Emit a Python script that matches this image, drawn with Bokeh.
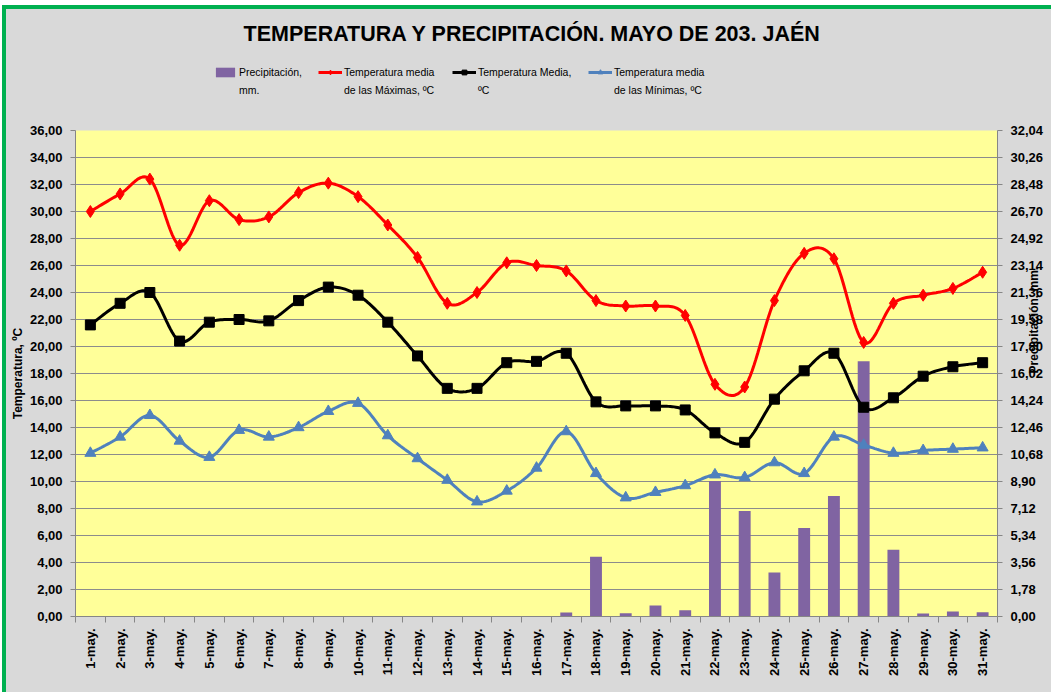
import numpy as np
from bokeh.plotting import figure
from bokeh.layouts import column
from bokeh.models import (Range1d, LinearAxis, FixedTicker, CustomJSTickFormatter,
                          Legend, LegendItem, Label)
from bokeh.embed import file_html
from bokeh.resources import INLINE

days = [f"{i}-may." for i in range(1, 32)]
precip = [0, 0, 0, 0, 0, 0, 0, 0, 0, 0, 0, 0, 0, 0, 0, 0,
          0.26, 3.94, 0.22, 0.73, 0.42, 8.93, 6.95, 2.90, 5.83, 7.94, 16.83, 4.40, 0.20, 0.33, 0.28]
tmax = [30.0, 31.3, 32.4, 27.5, 30.8, 29.4, 29.6, 31.4, 32.1, 31.1, 29.0, 26.6, 23.2, 24.0, 26.2, 26.0,
        25.6, 23.4, 23.0, 23.0, 22.3, 17.2, 17.0, 23.4, 26.9, 26.5, 20.3, 23.2, 23.8, 24.3, 25.5]
tmean = [21.6, 23.2, 24.0, 20.4, 21.8, 22.0, 21.9, 23.4, 24.4, 23.8, 21.8, 19.3, 16.9, 16.9, 18.8, 18.9,
         19.5, 15.9, 15.6, 15.6, 15.3, 13.6, 12.9, 16.1, 18.2, 19.5, 15.5, 16.2, 17.8, 18.5, 18.8]
tmin = [12.1, 13.3, 14.9, 13.0, 11.8, 13.8, 13.3, 14.0, 15.2, 15.8, 13.4, 11.7, 10.1, 8.5, 9.3, 11.0,
        13.7, 10.6, 8.8, 9.2, 9.7, 10.5, 10.3, 11.4, 10.6, 13.3, 12.7, 12.1, 12.3, 12.4, 12.5]
left_ticks = list(range(0, 37, 2))
right_ticks = [round(1.78 * i, 2) for i in range(19)]
title_text = "TEMPERATURA Y PRECIPITACIÓN. MAYO DE 203. JAÉN"
labels = [("Precipitación,", "mm."), ("Temperatura media", "de las Máximas, ºC"),
          ("Temperatura Media,", "ºC"), ("Temperatura media", "de las Mínimas, ºC")]

x = np.arange(1, len(days) + 1, dtype=float)


def smooth(xs, ys, n=16):
    """Excel-style smoothed line drawn through the data points (cubic Bezier, Catmull-Rom)."""
    xs = np.asarray(xs, float)
    ys = np.asarray(ys, float)
    px = np.concatenate([[xs[0]], xs, [xs[-1]]])
    py = np.concatenate([[ys[0]], ys, [ys[-1]]])
    ox, oy = [], []
    t = np.linspace(0, 1, n, endpoint=False)
    for i in range(1, len(px) - 2):
        p0 = np.array([px[i], py[i]])
        p3 = np.array([px[i + 1], py[i + 1]])
        c1 = p0 + (np.array([px[i + 1], py[i + 1]]) - np.array([px[i - 1], py[i - 1]])) / 6
        c2 = p3 - (np.array([px[i + 2], py[i + 2]]) - np.array([px[i], py[i]])) / 6
        for tt in t:
            b = ((1 - tt) ** 3) * p0 + 3 * (1 - tt) ** 2 * tt * c1 + 3 * (1 - tt) * tt ** 2 * c2 + tt ** 3 * p3
            ox.append(b[0])
            oy.append(b[1])
    ox.append(xs[-1])
    oy.append(ys[-1])
    return ox, oy


FONT = "Liberation Sans"
BG = "#d9d9d9"
fmt = CustomJSTickFormatter(code="return tick.toFixed(2).replace('.', ',');")

W = 1045
HH = 100
ML, MR, MT, MB = 69, 53, 21, 76
H = MT + 486 + MB
FRAME_LEFT_PAGE = 75
legend_x_page = [213, 318, 452, 588]

styles_series = [
    (tmax, "#ff0000", "diamond", 12),
    (tmean, "#000000", "square", 10),
    (tmin, "#4f81bd", "triangle", 11),
]

# ---------------- header (title + legend); legend proxies sit outside the header's range
hdr = figure(width=W, height=HH, x_range=Range1d(0, 1), y_range=Range1d(1000, 1001),
             output_backend="svg", toolbar_location=None, min_border=0,
             background_fill_color=None, border_fill_color=None,
             x_axis_location=None, y_axis_location=None)
hdr.outline_line_color = None
hdr.grid.visible = False
hdr.title.visible = False

proxies = [[hdr.vbar(x=x, top=precip, width=0.4, fill_color="#8064a2", line_color=None)]]
for ys, col, mk, sz in styles_series:
    lr = hdr.line(x=x, y=ys, line_color=col, line_width=3)
    mr = hdr.scatter(x=x, y=ys, marker=mk, size=sz - 2, fill_color=col, line_color=col)
    proxies.append([lr, mr])
blank = hdr.line(x=x, y=tmax, line_alpha=0)

for (l1, l2), rends, xp in zip(labels, proxies, legend_x_page):
    lg = Legend(items=[LegendItem(label=l1, renderers=rends),
                       LegendItem(label=l2, renderers=[blank])],
                orientation="vertical", location=(xp - FRAME_LEFT_PAGE, 9 + HH - 96),
                label_text_font=FONT, label_text_font_size="10.5px", label_text_color="#000000",
                glyph_width=24, glyph_height=12, label_height=12, label_standoff=2, spacing=6,
                padding=0, border_line_color=None, background_fill_alpha=0, margin=0)
    hdr.add_layout(lg, "center")

hdr.add_layout(Label(x=532 - FRAME_LEFT_PAGE, y=9 + HH - 33, x_units="screen", y_units="screen",
                     text=title_text, text_align="center", text_baseline="middle",
                     text_font=FONT, text_font_size="21.5px", text_font_style="bold",
                     text_color="#000000"))

# ---------------- main chart
p = figure(width=W, height=H, x_range=Range1d(0.5, 31.5), y_range=Range1d(0, 36),
           output_backend="svg", toolbar_location=None,
           background_fill_color="#ffff99", border_fill_color=BG,
           min_border_left=ML, min_border_right=MR, min_border_top=MT, min_border_bottom=MB)
p.outline_line_color = None
p.title.visible = False
p.extra_y_ranges = {"pp": Range1d(0, 32.04)}

ya = p.yaxis[0]
ya.ticker = FixedTicker(ticks=left_ticks)
ya.formatter = fmt
ya.axis_label = "Temperatura, ºC"

xa = p.xaxis[0]
xa.ticker = FixedTicker(ticks=list(range(1, 32)), minor_ticks=[i + 0.5 for i in range(0, 32)])
xa.major_label_overrides = {i + 1: d for i, d in enumerate(days)}
xa.major_label_orientation = np.pi / 2
xa.major_tick_out = 0
xa.major_tick_in = 0
xa.minor_tick_out = 6
xa.minor_tick_in = 0
xa.minor_tick_line_color = "#868686"

ra = LinearAxis(y_range_name="pp", ticker=FixedTicker(ticks=right_ticks), formatter=fmt,
                axis_label="Precipitación, mm.")
try:
    ra.axis_label_orientation = np.pi / 2
except Exception:
    pass
p.add_layout(ra, "right")

for ax in [ya, ra, xa]:
    ax.axis_line_color = "#868686"
    ax.major_label_text_font = FONT
    ax.major_label_text_font_size = "13px"
    ax.major_label_text_font_style = "bold"
    ax.major_label_text_color = "#000000"
    ax.axis_label_text_font = FONT
    ax.axis_label_text_font_size = "12px"
    ax.axis_label_text_font_style = "bold"
    ax.axis_label_text_color = "#000000"
for ax in [ya, ra]:
    ax.major_tick_line_color = "#868686"
    ax.major_tick_out = 5
    ax.major_tick_in = 0
    ax.minor_tick_out = 0
    ax.minor_tick_in = 0
    ax.major_label_standoff = 8
    ax.axis_label_standoff = 2
ra.axis_label_standoff = -12
xa.major_label_standoff = 6

p.xgrid.grid_line_color = None
p.ygrid.ticker = FixedTicker(ticks=left_ticks)
p.ygrid.grid_line_color = "#8c8c8c"
p.ygrid.grid_line_width = 1

p.vbar(x=x, top=precip, width=0.4, bottom=0, y_range_name="pp",
       fill_color="#8064a2", line_color=None)
for ys, col, mk, sz in styles_series:
    sx, sy = smooth(x, ys)
    p.line(sx, sy, line_color=col, line_width=3)
    p.scatter(x, ys, marker=mk, size=sz, fill_color=col, line_color=col)

layout = column(hdr, p, spacing=0)
layout.styles = {"border-top": "4px solid #00b050", "border-left": "4px solid #00b050",
                 "margin-left": "2px", "margin-top": "5px", "background-color": BG}

open("out.html", "w").write(file_html(layout, INLINE))
